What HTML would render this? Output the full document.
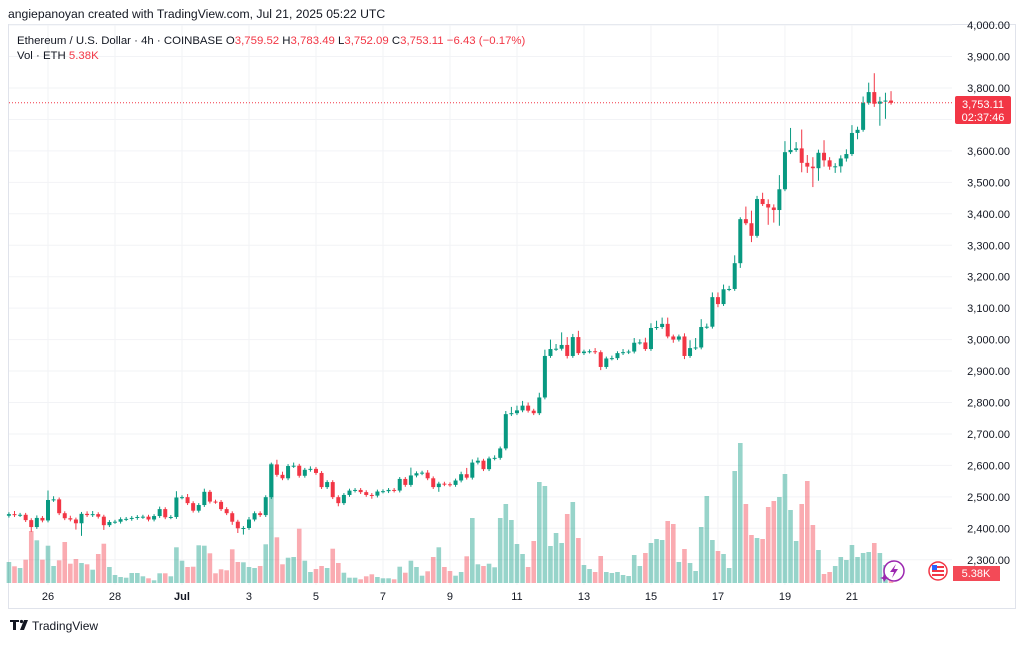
<!DOCTYPE html>
<html><head><meta charset="utf-8"><style>
html,body{margin:0;padding:0;background:#fff;}
body{width:1024px;height:642px;overflow:hidden;font-family:"Liberation Sans",sans-serif;}
svg text{font-family:"Liberation Sans",sans-serif;}
</style></head><body>
<svg id="chart" width="1024" height="642" viewBox="0 0 1024 642" xmlns="http://www.w3.org/2000/svg">
<rect x="0" y="0" width="1024" height="642" fill="#fff"/>
<text x="8" y="18" font-size="12.2" fill="#131722">angiepanoyan created with TradingView.com, Jul 21, 2025 05:22 UTC</text>
<rect x="8.5" y="24.5" width="1007" height="584" fill="none" stroke="#e0e3eb"/>
<g id="grid"></g>
<g id="vols"></g>
<g id="candles"></g>
<line id="lastline" x1="9" x2="952" stroke="#f23645" stroke-width="1" stroke-dasharray="1,2"/>
<g id="yaxis"></g>
<g id="xaxis"></g>
<text x="17" y="44" font-size="11.4" fill="#131722">Ethereum / U.S. Dollar · 4h · COINBASE <tspan fill="#131722">O</tspan><tspan fill="#f23645">3,759.52</tspan> <tspan fill="#131722">H</tspan><tspan fill="#f23645">3,783.49</tspan> <tspan fill="#131722">L</tspan><tspan fill="#f23645">3,752.09</tspan> <tspan fill="#131722">C</tspan><tspan fill="#f23645">3,753.11 −6.43 (−0.17%)</tspan></text>
<text x="17" y="59" font-size="11.4" fill="#131722">Vol · ETH <tspan fill="#f23645">5.38K</tspan></text>
<g>
<rect x="955" y="96" width="56" height="28" rx="2" fill="#f23645"/>
<text x="983" y="108" font-size="11" fill="#fff" text-anchor="middle">3,753.11</text>
<text x="983" y="121" font-size="11" fill="#fff" text-anchor="middle">02:37:46</text>
</g>
<g>
<rect x="953" y="566" width="47" height="15" fill="#f23645" opacity="0.9"/>
<text x="976" y="577" font-size="11" fill="#fff" text-anchor="middle">5.38K</text>
</g>
<g>
<circle cx="938" cy="571" r="9" fill="#fff" stroke="#f23645" stroke-width="1.5"/>
<rect x="932" y="566" width="12" height="2" fill="#f23645"/><rect x="932" y="570" width="12" height="2" fill="#f23645"/><rect x="932" y="574" width="12" height="2" fill="#f23645"/>
<rect x="932" y="565" width="5" height="5" fill="#2962ff"/>
</g>
<g>
<circle cx="894" cy="571" r="10" fill="#fff" stroke="#9c27b0" stroke-width="1.5"/>
<path d="M896 564 L890 572 L894 572 L892 578 L898 569 L894 569 Z" fill="#9c27b0"/>
<path d="M884 574 l2 3 l3 1 l-3 1 l-2 3 l-1 -3 l-3 -1 l3 -1 Z" fill="#9c27b0"/>
</g>
<g>
<path d="M10 620 h9 v2 h-3 v8 h-3 v-8 h-3 Z M20 630 l4 -10 h4 l-4 10 Z" fill="#131722"/>
<circle cx="21.5" cy="621.5" r="1.6" fill="#131722"/>
<text x="32" y="630" font-size="12" fill="#131722">TradingView</text>
</g>
</svg>
<script>
const firstOpen = 2440;
const closes = [2445,2442,2443,2426,2404,2433,2425,2490,2492,2448,
2432,2428,2416,2446,2442,2445,2437,2410,2420,2421,
2429,2430,2433,2436,2437,2428,2439,2461,2435,2436,
2498,2499,2480,2456,2474,2516,2485,2484,2461,2448,
2421,2400,2401,2428,2448,2442,2499,2603,2570,2559,
2598,2599,2567,2586,2589,2576,2531,2547,2499,2480,
2506,2520,2522,2515,2506,2504,2517,2518,2522,2520,
2557,2538,2568,2575,2577,2559,2531,2542,2540,2538,
2552,2572,2561,2609,2615,2588,2622,2624,2654,2763,
2766,2775,2790,2774,2766,2816,2948,2970,2971,2983,
2948,3008,2957,2962,2963,2960,2913,2940,2941,2957,
2960,2962,2990,2991,2970,3037,3040,3050,3010,3000,
3010,2948,2973,2975,3040,3041,3135,3113,3160,3161,
3243,3383,3370,3330,3447,3431,3420,3412,3478,3596,
3603,3608,3562,3550,3545,3594,3570,3550,3551,3576,
3590,3657,3667,3753,3787,3750,3757,3760,3753];
const wickUp = [6,10,6,6,6,8,6,30,10,6,
6,8,6,6,8,10,6,6,6,6,
6,6,6,6,6,6,6,8,6,6,
20,6,10,6,6,10,6,6,6,6,
6,6,6,8,6,6,6,6,15,10,
6,10,6,6,8,6,6,6,6,6,
6,6,6,6,6,6,6,6,6,6,
6,6,25,6,6,8,6,6,6,6,
6,8,20,10,10,6,6,8,6,10,
20,15,15,10,6,15,20,30,15,40,
25,10,20,6,6,10,6,6,8,6,
10,6,15,10,15,15,20,20,20,6,
6,10,25,30,25,10,15,15,15,10,
25,6,40,40,10,20,15,10,45,35,
70,20,60,25,30,10,40,10,10,10,
15,25,10,20,30,60,15,25,30];
const wickDown = [6,6,6,6,15,6,6,6,6,6,
6,6,20,40,6,6,6,15,6,6,
6,6,6,6,6,6,6,6,6,6,
6,6,6,6,6,6,6,6,6,6,
10,15,20,6,6,6,6,6,6,6,
6,6,6,6,6,6,6,6,6,10,
6,6,6,6,6,10,6,6,6,6,
6,6,6,6,6,6,6,15,6,6,
6,6,6,6,6,6,6,6,6,6,
6,6,6,6,6,6,6,6,6,6,
8,6,6,6,6,6,10,6,6,6,
6,6,6,6,6,6,6,6,6,10,
6,10,6,6,6,6,6,10,6,6,
6,15,6,20,6,6,55,40,50,6,
6,6,30,20,60,40,20,10,20,20,
10,6,20,6,6,10,70,55,6];
const volumes = [21,16.7,15,23.3,52,42.7,23.3,37.3,17,22.7,
41,19.3,24,20,18.7,13.3,29,39.3,16,8,
6,5.3,10,10,6.7,4.7,2.7,9.7,9.7,6.7,
35.7,22.3,16,16.3,37.7,37.3,29.7,9.7,13.7,12.7,
33.7,21,20.7,16,15,17,38.7,119.3,45.7,18.7,
25.3,26,54.3,22.3,11,14,17,15,34.3,20,
10.3,5.3,5.3,3.7,6.7,8.7,6,4.7,4.7,3.7,
16.3,10.3,22.3,16,7.3,11.7,26,35.7,16,12,
7.3,11,26.7,65,18.7,17,19.3,15.7,65,79,
63,39,29,16,42,101,97,37,50,40,
69,81,45,18,14,11,27,11,10,11,
8,7,28,17,30,40,44,43,62,59,
21,34,20,12,56,87,43,32,29,15,
112,140,79,48,45,44,76,82,86,109,
73,42,79,102,58,33,9,11,17,26,
23,38,26,30,31,40,30,18,8];
const priceTicks = [2300,2400,2500,2600,2700,2800,2900,3000,3100,3200,3300,3400,3500,3600,3700,3800,3900,4000];
const dateLabels = ["26","28","Jul","3","5","7","9","11","13","15","17","19","21"];
const dateIndex = [7,19,31,43,55,67,79,91,103,115,127,139,151];
const lastPrice = 3753.11;

const NS="http://www.w3.org/2000/svg";
function xOf(i){return 48+5.583*(i-7);}
function yP(p){return 88+(3800-p)*0.3145;}
function yV(v){return 583-v;}
function mk(tag,attrs,parent){const e=document.createElementNS(NS,tag);for(const k in attrs)e.setAttribute(k,attrs[k]);parent.appendChild(e);return e;}
const grid=document.getElementById('grid'),vg=document.getElementById('vols'),cg=document.getElementById('candles'),ya=document.getElementById('yaxis'),xa=document.getElementById('xaxis');
priceTicks.forEach(p=>{
  const y=yP(p);
  const l=mk('line',{x1:9,x2:952,y1:y,y2:y,stroke:'#f2f3f6','stroke-width':1},grid);
  
  
  if(p===3700)return;
  const t=mk('text',{x:1010,y:y+4,'font-size':11,fill:'#131722','text-anchor':'end'},ya);
  t.textContent=p.toLocaleString('en-US',{minimumFractionDigits:2});
  
  
});
dateLabels.forEach((d,k)=>{
  const x=xOf(dateIndex[k]);
  const l=mk('line',{x1:x,x2:x,y1:25,y2:585,stroke:'#f2f3f6','stroke-width':1},grid);
  
  
  const t=mk('text',{x:x,y:600,'font-size':11,fill:'#131722','text-anchor':'middle','font-weight':d==='Jul'?'bold':'normal'},xa);
  t.textContent=d;
  
  
});
closes.forEach((c,i)=>{
  const o=i===0?firstOpen:closes[i-1];
  const up=c>=o;
  const col=up?'#089981':'#f23645';
  const x=xOf(i);
  const v=mk('rect',{x:x-2.3,y:yV(volumes[i]),width:4.6,height:volumes[i],fill:up?'rgba(8,153,129,0.42)':'rgba(242,54,69,0.42)'},vg);
  
  
  const hi=Math.max(o,c)+wickUp[i], lo=Math.min(o,c)-wickDown[i];
  const w=mk('line',{x1:x,x2:x,y1:yP(hi),y2:yP(lo),stroke:col,'stroke-width':1},cg);
  
  
  const top=yP(Math.max(o,c)), h=Math.max(1,yP(Math.min(o,c))-top);
  const b=mk('rect',{x:x-2,y:top,width:4,height:h,fill:col},cg);
  
  
});
const ll=document.getElementById('lastline');
ll.setAttribute('y1',yP(lastPrice));ll.setAttribute('y2',yP(lastPrice));
</script>
</body></html>
